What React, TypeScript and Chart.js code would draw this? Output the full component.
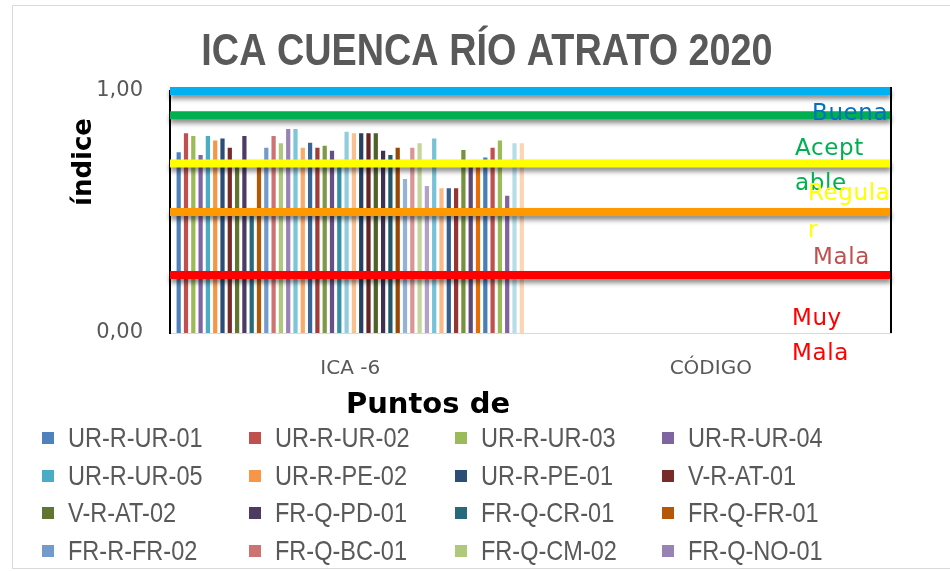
import React, { useEffect, useRef } from 'react';
import { Chart, registerables } from 'chart.js';

Chart.register(...registerables);

const chartTitle = 'ICA CUENCA RÍO ATRATO 2020';
const yAxisTitle = 'índice';
const xAxisTitle = 'Puntos de';
const categories = ['ICA -6', 'CÓDIGO'];
const yTickValues = [0, 1];

const seriesNames = [
  'UR-R-UR-01', 'UR-R-UR-02', 'UR-R-UR-03', 'UR-R-UR-04',
  'UR-R-UR-05', 'UR-R-PE-02', 'UR-R-PE-01', 'V-R-AT-01',
  'V-R-AT-02', 'FR-Q-PD-01', 'FR-Q-CR-01', 'FR-Q-FR-01',
  'FR-R-FR-02', 'FR-Q-BC-01', 'FR-Q-CM-02', 'FR-Q-NO-01',
  'Punto 17', 'Punto 18', 'Punto 19', 'Punto 20', 'Punto 21', 'Punto 22',
  'Punto 23', 'Punto 24', 'Punto 25', 'Punto 26', 'Punto 27', 'Punto 28',
  'Punto 29', 'Punto 30', 'Punto 31', 'Punto 32', 'Punto 33', 'Punto 34',
  'Punto 35', 'Punto 36', 'Punto 37', 'Punto 38', 'Punto 39', 'Punto 40',
  'Punto 41', 'Punto 42', 'Punto 43', 'Punto 44', 'Punto 45', 'Punto 46',
  'Punto 47', 'Punto 48',
];

// ICA value of each monitoring point (category "ICA -6"); "CÓDIGO" has no values
const seriesValues = [
  0.747, 0.825, 0.814, 0.736, 0.814, 0.795, 0.804, 0.766,
  0.71, 0.814, 0.5, 0.7, 0.766, 0.814, 0.784, 0.843,
  0.843, 0.766, 0.786, 0.766, 0.774, 0.753, 0.7, 0.832,
  0.825, 0.825, 0.825, 0.825, 0.753, 0.736, 0.766, 0.636,
  0.766, 0.784, 0.607, 0.804, 0.598, 0.598, 0.598, 0.756,
  0.7, 0.7, 0.725, 0.766, 0.795, 0.567, 0.784, 0.784,
];

const seriesColors = [
  '#4F81BD', '#C0504D', '#9BBB59', '#8064A2', '#4BACC6', '#F79646',
  '#2C4D75', '#772C2A', '#5F7530', '#4D3B62', '#276A7C', '#B65708',
  '#729ACA', '#CD7371', '#AFC97A', '#9983B5', '#7CC6DA', '#F9AB6B',
  '#3A6599', '#A03D3A', '#7E9A48', '#664F86', '#3591A8', '#93CDDD',
  '#FAC090', '#254061', '#632523', '#4F6228', '#3F3151', '#215968',
  '#974806', '#95B3D7', '#D99694', '#C3D69B', '#B3A2C7', '#79C1D6',
  '#FBB987', '#365F91', '#943634', '#76923C', '#5F497A', '#E46C0A',
  '#4A7EBB', '#C0504D', '#9BBB59', '#8064A2', '#B7DEE8', '#FCD5B5',
];

const legendCount = 16;

const thresholdValues = [1.0, 0.9, 0.7, 0.5, 0.24];
const thresholdColors = ['#00B0F0', '#00B050', '#FFFF00', '#FF9900', '#FF0000'];

const qualityLabelLines = [['Buena'], ['Acept', 'able'], ['Regula', 'r'], ['Mala'], ['Muy', 'Mala']];
const qualityLabelColors = ['#0070C0', '#00B050', '#FFFF00', '#C0504D', '#FF0000'];

// placement of the quality labels: offset from right edge of plot, and baseline of each line in axis units
const qualityLabelPlacement = [
  { dx: 79, base: [0.88] },
  { dx: 96, base: [0.736, 0.591] },
  { dx: 83, base: [0.55, 0.398] },
  { dx: 78, base: [0.285] },
  { dx: 99, base: [0.033, -0.112] },
];

const overlayPlugin = {
  id: 'overlay',
  afterDatasetsDraw(chart: any) {
    const { ctx, chartArea: a } = chart;
    const y = chart.scales.y;
    thresholdValues.forEach((v, i) => {
      const py = y.getPixelForValue(v);
      ctx.save();
      ctx.shadowColor = 'rgba(0,0,0,0.45)';
      ctx.shadowBlur = 5;
      ctx.shadowOffsetY = 4;
      ctx.strokeStyle = thresholdColors[i];
      ctx.lineWidth = 8;
      ctx.beginPath();
      ctx.moveTo(a.left, py);
      ctx.lineTo(a.right, py);
      ctx.stroke();
      ctx.restore();
    });
    ctx.save();
    ctx.strokeStyle = '#000';
    ctx.lineWidth = 2;
    ctx.beginPath();
    ctx.moveTo(a.right, a.top - 4);
    ctx.lineTo(a.right, a.bottom);
    ctx.stroke();
    ctx.restore();
    ctx.save();
    ctx.font = '23px "DejaVu Sans"';
    ctx.textAlign = 'left';
    ctx.textBaseline = 'alphabetic';
    if ('letterSpacing' in ctx) (ctx as any).letterSpacing = '0.6px';
    qualityLabelLines.forEach((lines, i) => {
      const p = qualityLabelPlacement[i];
      ctx.fillStyle = qualityLabelColors[i];
      lines.forEach((t, j) => {
        ctx.fillText(t, a.right - p.dx, y.getPixelForValue(p.base[j]));
      });
    });
    ctx.restore();
  },
  afterDraw(chart: any) {
    const { ctx } = chart;
    ctx.save();
    ctx.fillStyle = '#595959';
    ctx.font = 'bold 45px "Liberation Sans"';
    ctx.textAlign = 'center';
    ctx.textBaseline = 'middle';
    ctx.save();
    ctx.translate(487, 53);
    ctx.scale(0.84, 1);
    ctx.fillText(chartTitle, 0, 0);
    ctx.restore();
    ctx.fillStyle = '#000';
    ctx.font = 'bold 29px "DejaVu Sans"';
    ctx.fillText(xAxisTitle, 428, 405);
    ctx.translate(84, 162);
    ctx.rotate(-Math.PI / 2);
    ctx.font = 'bold 26px "DejaVu Sans"';
    ctx.fillText(yAxisTitle, 0, 0);
    ctx.restore();
  },
};

export default function App() {
  const ref = useRef<HTMLCanvasElement | null>(null);

  useEffect(() => {
    if (!ref.current) return;
    const datasets = seriesNames.map((name, i) => ({
      label: name,
      data: [seriesValues[i], null],
      backgroundColor: seriesColors[i],
      borderWidth: 0,
      categoryPercentage: 0.972,
      barPercentage: 0.58,
    }));
    const chart = new Chart(ref.current, {
      type: 'bar',
      data: { labels: categories, datasets },
      options: {
        responsive: false,
        animation: false,
        devicePixelRatio: 1,
        layout: { padding: { top: 91, right: 59, bottom: 0, left: 0 } },
        plugins: {
          legend: { display: false },
          title: { display: false },
          tooltip: { enabled: false },
        },
        scales: {
          x: {
            grid: { display: false, drawTicks: false },
            border: { display: true, color: '#D9D9D9', width: 1 },
            ticks: {
              color: '#595959',
              font: { family: 'DejaVu Sans', size: 20 },
              padding: 24,
            },
            afterFit: (s: any) => {
              s.height = 420 - 333;
            },
          },
          y: {
            min: 0,
            max: 1,
            afterBuildTicks: (s: any) => {
              s.ticks = yTickValues.map((v) => ({ value: v }));
            },
            grid: { display: false, drawTicks: false },
            border: { display: true, color: '#000', width: 2 },
            ticks: {
              color: '#595959',
              font: { family: 'DejaVu Sans', size: 21 },
              padding: 27,
              callback: (v: any) => Number(v).toFixed(2).replace('.', ','),
            },
            afterFit: (s: any) => {
              s.width = 170;
            },
          },
        },
      },
      plugins: [overlayPlugin],
    });
    return () => chart.destroy();
  }, []);

  return (
    <div
      style={{
        position: 'absolute',
        left: 0,
        top: 0,
        width: 950,
        height: 571,
        overflow: 'hidden',
        background: '#fff',
      }}
    >
      <div
        style={{
          position: 'absolute',
          left: 12,
          top: 5,
          width: 980,
          height: 562,
          border: '1px solid #D9D9D9',
        }}
      />
      <canvas
        ref={ref}
        width={950}
        height={420}
        style={{ position: 'absolute', left: 0, top: 0, width: 950, height: 420 }}
      />
      <div
        style={{
          position: 'absolute',
          left: 42,
          top: 419,
          display: 'grid',
          gridTemplateColumns: 'repeat(4, 206.7px)',
          gridAutoRows: '37.7px',
          alignItems: 'center',
        }}
      >
        {seriesNames.slice(0, legendCount).map((name, i) => (
          <div key={name} style={{ display: 'flex', alignItems: 'center', whiteSpace: 'nowrap' }}>
            <span
              style={{
                display: 'inline-block',
                width: 12,
                height: 12,
                marginRight: 14,
                background: seriesColors[i],
                flex: 'none',
              }}
            />
            <span
              style={{
                display: 'inline-block',
                fontFamily: '"Liberation Sans", sans-serif',
                fontSize: 28,
                color: '#595959',
                lineHeight: 1,
                transform: 'scaleX(0.84)',
                transformOrigin: 'left center',
              }}
            >
              {name}
            </span>
          </div>
        ))}
      </div>
    </div>
  );
}
